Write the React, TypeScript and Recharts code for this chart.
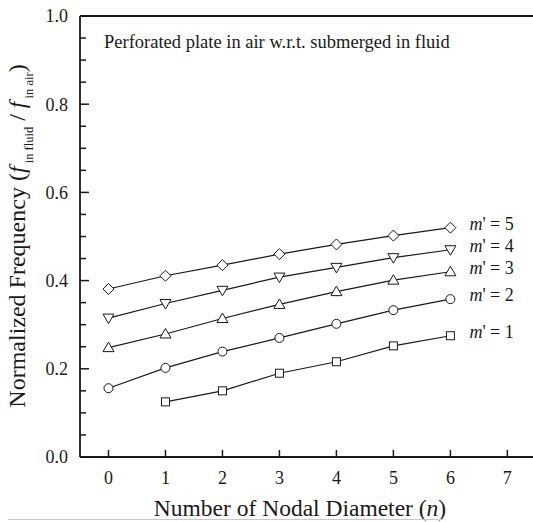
import { LineChart, Line, XAxis, YAxis, ReferenceLine, LabelList } from 'recharts';

const nodalDiameter = [0, 1, 2, 3, 4, 5, 6];
const mPrime1 = [null, 0.125, 0.15, 0.19, 0.216, 0.252, 0.275];
const mPrime2 = [0.156, 0.202, 0.239, 0.27, 0.302, 0.333, 0.358];
const mPrime3 = [0.248, 0.279, 0.314, 0.346, 0.375, 0.401, 0.42];
const mPrime4 = [0.315, 0.348, 0.378, 0.408, 0.43, 0.452, 0.47];
const mPrime5 = [0.381, 0.411, 0.435, 0.46, 0.482, 0.502, 0.52];

const xTicks = [0, 1, 2, 3, 4, 5, 6, 7];
const yTicks = [0, 0.05, 0.1, 0.15, 0.2, 0.25, 0.3, 0.35, 0.4, 0.45, 0.5, 0.55, 0.6, 0.65, 0.7, 0.75, 0.8, 0.85, 0.9, 0.95, 1.0];

const data = nodalDiameter.map((n, i) => ({
  n,
  m1: mPrime1[i],
  m2: mPrime2[i],
  m3: mPrime3[i],
  m4: mPrime4[i],
  m5: mPrime5[i],
}));

const FONT = "'Liberation Serif', 'Times New Roman', serif";
const INK = '#1a1a1a';
const serif = { fontFamily: FONT };

type Shape = 'square' | 'circle' | 'up' | 'down' | 'diamond';

// open marker drawn at each data point
const makeDot = (shape: Shape) => (props: any) => {
  const { cx, cy, index } = props;
  if (cx == null || cy == null || props.value == null) return <g key={index} />;
  const common = { fill: '#fff', stroke: INK, strokeWidth: 1 };
  if (shape === 'circle') return <circle key={index} cx={cx} cy={cy} r={4.5} {...common} />;
  if (shape === 'square') return <rect key={index} x={cx - 4} y={cy - 4} width={8} height={8} {...common} />;
  if (shape === 'diamond')
    return <polygon key={index} points={`${cx},${cy - 5.5} ${cx + 5.5},${cy} ${cx},${cy + 5.5} ${cx - 5.5},${cy}`} {...common} />;
  if (shape === 'up')
    return <polygon key={index} points={`${cx},${cy - 5.5} ${cx + 5.5},${cy + 4} ${cx - 5.5},${cy + 4}`} {...common} />;
  return <polygon key={index} points={`${cx},${cy + 5.5} ${cx + 5.5},${cy - 4} ${cx - 5.5},${cy - 4}`} {...common} />;
};

const endLabel = (num: string) => (props: any) => {
  const { x, y, index } = props;
  if (index !== nodalDiameter.length - 1) return null;
  return (
    <text x={x + 19} y={y - 4} dy="0.35em" style={serif} fontSize={18} fill={INK}>
      <tspan fontStyle="italic">m</tspan>
      <tspan>' = {num}</tspan>
    </text>
  );
};

const XTick = (props: any) => {
  const { x, y, payload } = props;
  return (
    <g>
      <line x1={x} y1={y} x2={x} y2={y - 7} stroke={INK} strokeWidth={1.5} />
      <text x={x} y={y + 27} textAnchor="middle" style={serif} fontSize={18} fill={INK}>
        {payload.value}
      </text>
    </g>
  );
};

const YTick = (props: any) => {
  const { x, y, payload } = props;
  const v = Math.round(payload.value * 100);
  const major = v % 20 === 0;
  return (
    <g>
      <line x1={x} y1={y} x2={x + (major ? 9 : 6)} y2={y} stroke={INK} strokeWidth={1.5} />
      {major && (
        <text x={x - 12} y={y} dy="0.35em" textAnchor="end" style={serif} fontSize={18} fill={INK}>
          {(v / 100).toFixed(1)}
        </text>
      )}
    </g>
  );
};

const YTitle = (props: any) => {
  const cx = 25;
  const cy = 236;
  return (
    <text
      x={cx}
      y={cy}
      transform={`rotate(-90 ${cx} ${cy})`}
      textAnchor="middle"
      style={serif}
      fontSize={24}
      fill={INK}
    >
      Normalized Frequency (
      <tspan fontStyle="italic">f</tspan>
      <tspan fontSize={12.5} dy={8}> in fluid</tspan>
      <tspan dy={-8}> / </tspan>
      <tspan fontStyle="italic">f</tspan>
      <tspan fontSize={12.5} dy={8}> in air</tspan>
      <tspan dy={-8}>)</tspan>
    </text>
  );
};

const XTitle = (props: any) => (
  <text x={300} y={516} textAnchor="middle" style={serif} fontSize={23.5} fill={INK}>
    Number of Nodal Diameter (<tspan fontStyle="italic">n</tspan>)
  </text>
);

const series: { key: string; shape: Shape; num: string }[] = [
  { key: 'm1', shape: 'square', num: '1' },
  { key: 'm2', shape: 'circle', num: '2' },
  { key: 'm3', shape: 'up', num: '3' },
  { key: 'm4', shape: 'down', num: '4' },
  { key: 'm5', shape: 'diamond', num: '5' },
];

export default function App() {
  return (
    <div style={{ position: 'absolute', left: 0, top: 0, width: 533, height: 522, background: '#fff', fontFamily: FONT }}>
      <LineChart width={533} height={522} data={data} margin={{ top: 16, right: 0, bottom: 0, left: 0 }}>
        <XAxis
          dataKey="n"
          type="number"
          domain={[-0.5, 7.45]}
          allowDataOverflow
          ticks={xTicks}
          interval={0}
          height={65}
          tickSize={0}
          tickMargin={0}
          tickLine={false}
          tick={<XTick />}
          axisLine={{ stroke: INK, strokeWidth: 1.8 }}
          label={<XTitle />}
        />
        <YAxis
          type="number"
          domain={[0, 1]}
          ticks={yTicks}
          interval={0}
          width={80}
          tickSize={0}
          tickMargin={0}
          tickLine={false}
          tick={<YTick />}
          axisLine={{ stroke: INK, strokeWidth: 1.8 }}
          label={<YTitle />}
        />
        <ReferenceLine y={1} stroke={INK} strokeWidth={1.8} />
        <text x={104} y={48} style={serif} fontSize={18.5} fill={INK}>
          Perforated plate in air w.r.t. submerged in fluid
        </text>
        {series.map((s) => (
          <Line
            key={s.key}
            dataKey={s.key}
            stroke={INK}
            strokeWidth={1.2}
            dot={makeDot(s.shape)}
            activeDot={false}
            isAnimationActive={false}
          >
            <LabelList dataKey={s.key} content={endLabel(s.num)} />
          </Line>
        ))}
      </LineChart>
      <div style={{ position: 'absolute', left: 8, top: 519, width: 435, height: 0, borderTop: '1px solid #c8c8c8' }} />
    </div>
  );
}
